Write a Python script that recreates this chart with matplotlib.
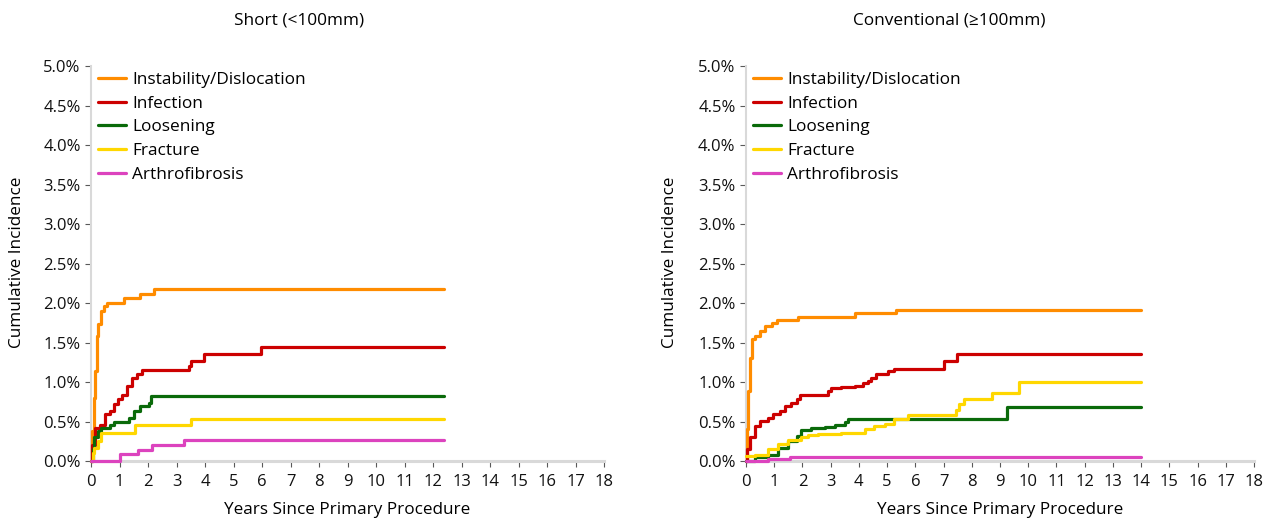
import matplotlib
matplotlib.use("Agg")
import matplotlib.pyplot as plt

plt.rcParams['font.family'] = ['Open Sans', 'DejaVu Sans']

causes = ['Instability/Dislocation', 'Infection', 'Loosening', 'Fracture', 'Arthrofibrosis']
colors = ['#FF8C00', '#CC0000', '#0A6A0A', '#FFD700', '#DC43BE']

# Short stems (<100mm): years since primary, cumulative incidence (%)
short_inst_t = [0, 0.05, 0.1, 0.14, 0.2, 0.26, 0.34, 0.44, 0.55, 1.14, 1.73, 2.2, 12.4]
short_inst_v = [0, 0.38, 0.8, 1.14, 1.58, 1.73, 1.90, 1.96, 2.0, 2.07, 2.11, 2.18, 2.18]
short_inf_t = [0, 0.05, 0.14, 0.31, 0.49, 0.67, 0.79, 0.96, 1.08, 1.26, 1.44, 1.61, 1.79, 3.44, 3.5, 3.96, 5.96, 12.4]
short_inf_v = [0, 0.2, 0.42, 0.46, 0.59, 0.63, 0.72, 0.78, 0.84, 0.95, 1.05, 1.1, 1.15, 1.2, 1.27, 1.35, 1.44, 1.44]
short_loos_t = [0, 0.06, 0.12, 0.24, 0.35, 0.67, 0.79, 1.32, 1.5, 1.73, 2.02, 2.1, 12.4]
short_loos_v = [0, 0.15, 0.3, 0.38, 0.42, 0.46, 0.5, 0.55, 0.63, 0.7, 0.74, 0.82, 0.82]
short_frac_t = [0, 0.06, 0.12, 0.24, 0.35, 1.55, 3.5, 12.4]
short_frac_v = [0, 0.1, 0.17, 0.25, 0.35, 0.46, 0.53, 0.53]
short_arth_t = [0, 1.0, 1.64, 2.14, 3.26, 12.4]
short_arth_v = [0, 0.09, 0.14, 0.2, 0.26, 0.26]

# Conventional stems (>=100mm)
conv_inst_t = [0, 0.04, 0.08, 0.14, 0.22, 0.32, 0.49, 0.67, 0.91, 1.08, 1.85, 3.85, 5.32, 14.0]
conv_inst_v = [0, 0.4, 0.89, 1.31, 1.54, 1.58, 1.65, 1.71, 1.75, 1.79, 1.82, 1.88, 1.91, 1.91]
conv_inf_t = [0, 0.05, 0.14, 0.32, 0.49, 0.79, 0.96, 1.2, 1.38, 1.61, 1.79, 1.91, 2.91, 3.02, 3.38, 3.85,
              4.14, 4.32, 4.44, 4.61, 5.02, 5.26, 7.02, 7.49, 14.0]
conv_inf_v = [0, 0.15, 0.3, 0.44, 0.51, 0.55, 0.59, 0.63, 0.7, 0.74, 0.78, 0.84, 0.89, 0.92, 0.94, 0.95,
              0.99, 1.01, 1.05, 1.1, 1.14, 1.17, 1.27, 1.35, 1.35]
conv_loos_t = [0, 0.32, 0.79, 1.14, 1.49, 1.79, 1.96, 2.32, 2.79, 3.14, 3.49, 3.61, 9.26, 14.0]
conv_loos_v = [0, 0.05, 0.08, 0.17, 0.25, 0.32, 0.39, 0.42, 0.43, 0.45, 0.49, 0.53, 0.68, 0.68]
conv_frac_t = [0, 0.32, 0.79, 1.14, 1.49, 1.96, 2.2, 2.55, 3.38, 3.85, 4.2, 4.55, 4.91, 5.26, 5.73,
               7.44, 7.55, 7.73, 8.73, 9.67, 14.0]
conv_frac_v = [0.06, 0.08, 0.15, 0.21, 0.26, 0.3, 0.33, 0.34, 0.35, 0.36, 0.4, 0.44, 0.47, 0.53, 0.58,
               0.65, 0.72, 0.78, 0.86, 1.0, 1.0]
conv_arth_t = [0, 0.79, 1.55, 14.0]
conv_arth_v = [0, 0.02, 0.05, 0.05]

x_ticks = list(range(0, 19))
y_ticks = [0.0, 0.5, 1.0, 1.5, 2.0, 2.5, 3.0, 3.5, 4.0, 4.5, 5.0]
y_labels = ['%.1f%%' % v for v in y_ticks]

panels = [
    ('Short (<100mm)',
     [(short_inst_t, short_inst_v), (short_inf_t, short_inf_v), (short_loos_t, short_loos_v),
      (short_frac_t, short_frac_v), (short_arth_t, short_arth_v)]),
    ('Conventional (\u2265100mm)',
     [(conv_inst_t, conv_inst_v), (conv_inf_t, conv_inf_v), (conv_loos_t, conv_loos_v),
      (conv_frac_t, conv_frac_v), (conv_arth_t, conv_arth_v)]),
]

fig = plt.figure(figsize=(12.77, 5.29), dpi=100)
axes_rects = [[0.0713, 0.1285, 0.4017, 0.7465], [0.5842, 0.1285, 0.3978, 0.7465]]
title_x = [0.234, 0.743]
ylabel_x = [0.0133, 0.5247]

for i, (title, series) in enumerate(panels):
    ax = fig.add_axes(axes_rects[i])
    for (t, v), name, c in zip(series, causes, colors):
        ax.plot(t, v, drawstyle='steps-post', color=c, lw=2.3, label=name,
                solid_capstyle='round', clip_on=False, zorder=3)
    ax.set_xlim(0, 18)
    ax.set_ylim(0, 5.0)
    ax.set_xticks(x_ticks)
    ax.set_yticks(y_ticks)
    ax.set_yticklabels(y_labels)
    ax.tick_params(labelsize=12, colors='#595959', labelcolor='#111111', length=4, width=0.8)
    ax.tick_params(axis='x', pad=5)
    for s in ['top', 'right']:
        ax.spines[s].set_visible(False)
    ax.spines['bottom'].set_color('#D9D9D9')
    ax.spines['bottom'].set_linewidth(2.2)
    ax.spines['left'].set_color('#D9D9D9')
    ax.spines['left'].set_linewidth(1.5)
    ax.set_xlabel('Years Since Primary Procedure', fontsize=12.3, labelpad=9)
    fig.text(ylabel_x[i], 0.505, 'Cumulative Incidence', rotation=90, fontsize=12.3,
             ha='center', va='center')
    fig.text(title_x[i], 0.962, title, fontsize=12.4, ha='center', va='center')
    ax.legend(loc='upper left', frameon=False, fontsize=12.4, handlelength=1.65,
              handletextpad=0.35, labelspacing=0.45, borderaxespad=0.0,
              bbox_to_anchor=(0.0, 1.003))

fig.savefig('out.png', dpi=100)
